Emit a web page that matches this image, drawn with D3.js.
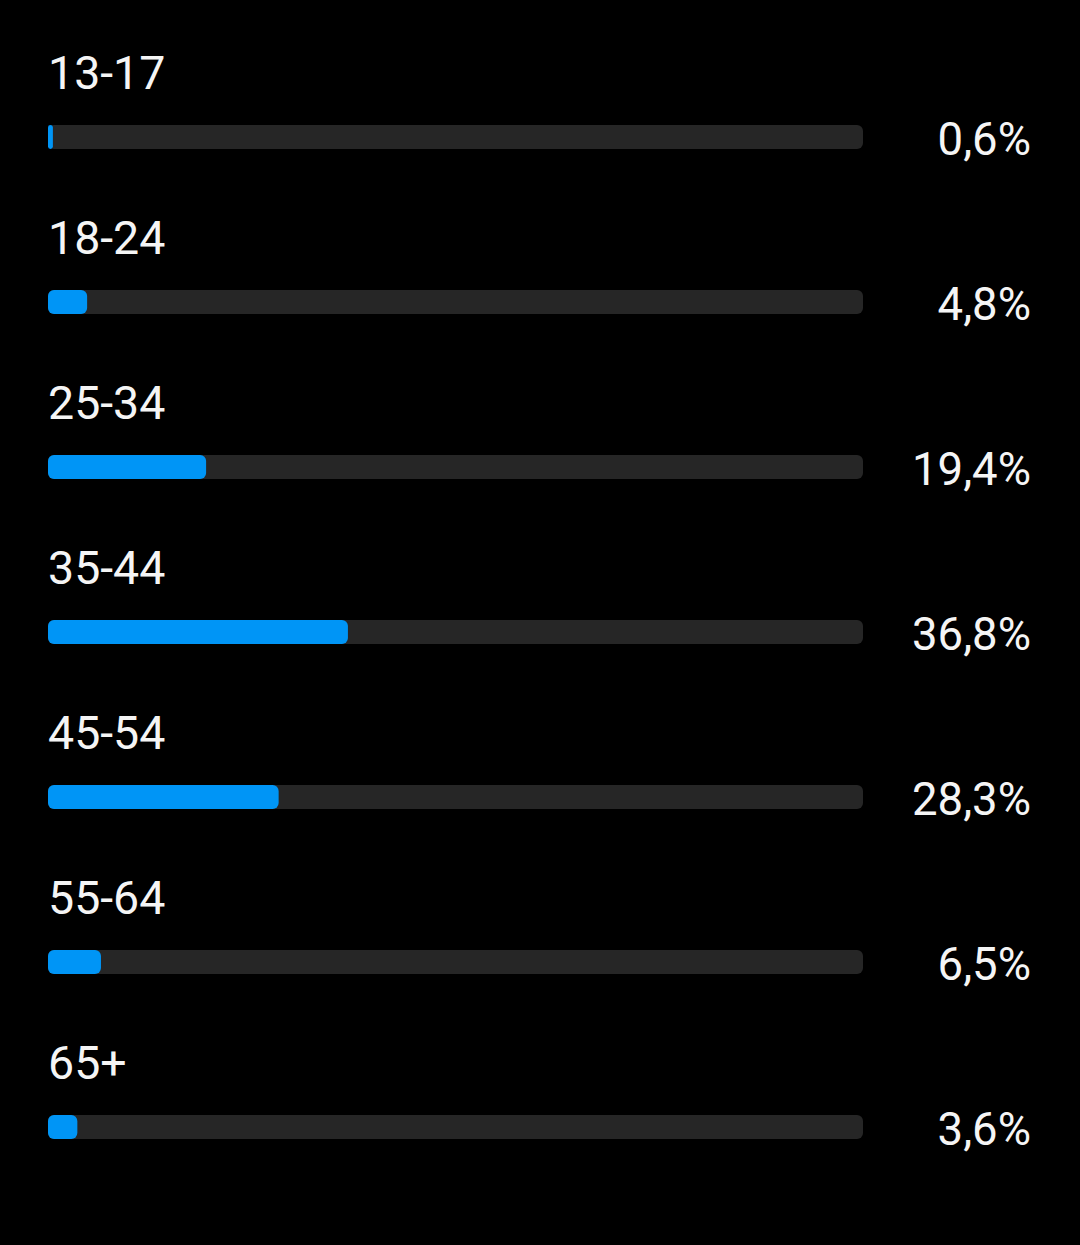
<!DOCTYPE html>
<html><head><meta charset="utf-8">
<script src="https://cdn.jsdelivr.net/npm/d3@7"></script>
<style>html,body{margin:0;padding:0;background:#000;}svg{display:block;}</style>
</head><body>
<script>
const categories = ["13-17","18-24","25-34","35-44","45-54","55-64","65+"];
const values = [0.6, 4.8, 19.4, 36.8, 28.3, 6.5, 3.6];
const valueLabels = ["0,6%","4,8%","19,4%","36,8%","28,3%","6,5%","3,6%"];

const W = 1080, H = 1245;
const svg = d3.select("body").append("svg").attr("width", W).attr("height", H)
  .style("background", "#000");

const x = d3.scaleLinear().domain([0, 100]).range([48, 863]);
const y = d3.scaleBand().domain(categories).range([43, 1198]).paddingInner(0).paddingOuter(0);
const barH = 24, barOff = 82;

const g = svg.selectAll("g.row").data(categories).join("g").attr("class","row")
  .attr("transform", d => `translate(0,${y(d)})`);

g.append("rect").attr("x", x(0)).attr("y", barOff).attr("width", x(100) - x(0))
  .attr("height", barH).attr("rx", 6).attr("fill", "#262626");

g.append("rect").attr("x", x(0)).attr("y", barOff)
  .attr("width", (d, i) => Math.max(x(values[i]) - x(0), 4))
  .attr("height", barH).attr("rx", (d,i) => Math.min(6, (x(values[i]) - x(0))/2))
  .attr("fill", "#0095f6");

g.append("text").attr("x", 48).attr("y", 46).text(d => d)
  .attr("fill", "#f5f5f5").style("font-family", "Roboto, sans-serif").style("font-size", "46.5px");

g.append("text").attr("x", 1031).attr("y", 112).attr("text-anchor", "end")
  .text((d, i) => valueLabels[i])
  .attr("fill", "#f5f5f5").style("font-family", "Roboto, sans-serif").style("font-size", "45.5px");
</script>
</body></html>
